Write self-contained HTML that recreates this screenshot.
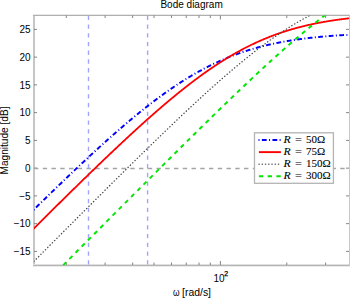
<!DOCTYPE html>
<html><head><meta charset="utf-8"><style>
html,body{margin:0;padding:0;background:#fff;}
body{width:350px;height:298px;overflow:hidden;position:relative;}
svg{position:absolute;left:0;top:0;display:block;}
.t{font-family:"Liberation Sans",sans-serif;font-size:10px;fill:#000;}
.s{font-family:"Liberation Sans",sans-serif;font-size:7px;fill:#000;stroke:#000;stroke-width:0.25px;}
.lg{font-family:"Liberation Serif",serif;font-size:11px;fill:#000;stroke:#000;stroke-width:0.08px;}
</style></head><body>
<svg width="350" height="298" viewBox="0 0 350 298">
<defs><clipPath id="pa"><rect x="34.0" y="15.5" width="315.0" height="250.0"/></clipPath></defs>
<rect x="33" y="15" width="2" height="250" fill="#c6c6c6"/>
<rect x="33" y="14" width="317" height="1" fill="#e8e8e8"/>
<rect x="33" y="15" width="317" height="1" fill="#b0b0b0"/>
<rect x="33" y="264" width="317" height="1" fill="#e0e0e0"/>
<rect x="33" y="265" width="317" height="1" fill="#b4b4b4"/>
<rect x="33" y="266" width="317" height="1" fill="#ececec"/>
<rect x="349" y="15" width="1" height="251" fill="#c8c8c8"/>
<line x1="66.28" y1="265.00" x2="66.28" y2="262.50" stroke="#777" stroke-width="0.9"/>
<line x1="66.28" y1="15.50" x2="66.28" y2="18.00" stroke="#777" stroke-width="0.9"/>
<line x1="105.11" y1="265.00" x2="105.11" y2="262.50" stroke="#777" stroke-width="0.9"/>
<line x1="105.11" y1="15.50" x2="105.11" y2="18.00" stroke="#777" stroke-width="0.9"/>
<line x1="132.65" y1="265.00" x2="132.65" y2="262.50" stroke="#777" stroke-width="0.9"/>
<line x1="132.65" y1="15.50" x2="132.65" y2="18.00" stroke="#777" stroke-width="0.9"/>
<line x1="154.02" y1="265.00" x2="154.02" y2="262.50" stroke="#777" stroke-width="0.9"/>
<line x1="154.02" y1="15.50" x2="154.02" y2="18.00" stroke="#777" stroke-width="0.9"/>
<line x1="171.48" y1="265.00" x2="171.48" y2="262.50" stroke="#777" stroke-width="0.9"/>
<line x1="171.48" y1="15.50" x2="171.48" y2="18.00" stroke="#777" stroke-width="0.9"/>
<line x1="186.24" y1="265.00" x2="186.24" y2="262.50" stroke="#777" stroke-width="0.9"/>
<line x1="186.24" y1="15.50" x2="186.24" y2="18.00" stroke="#777" stroke-width="0.9"/>
<line x1="199.03" y1="265.00" x2="199.03" y2="262.50" stroke="#777" stroke-width="0.9"/>
<line x1="199.03" y1="15.50" x2="199.03" y2="18.00" stroke="#777" stroke-width="0.9"/>
<line x1="210.31" y1="265.00" x2="210.31" y2="262.50" stroke="#777" stroke-width="0.9"/>
<line x1="210.31" y1="15.50" x2="210.31" y2="18.00" stroke="#777" stroke-width="0.9"/>
<line x1="220.40" y1="265.00" x2="220.40" y2="261.00" stroke="#777" stroke-width="0.9"/>
<line x1="220.40" y1="15.50" x2="220.40" y2="19.50" stroke="#777" stroke-width="0.9"/>
<line x1="286.78" y1="265.00" x2="286.78" y2="262.50" stroke="#777" stroke-width="0.9"/>
<line x1="286.78" y1="15.50" x2="286.78" y2="18.00" stroke="#777" stroke-width="0.9"/>
<line x1="325.61" y1="265.00" x2="325.61" y2="262.50" stroke="#777" stroke-width="0.9"/>
<line x1="325.61" y1="15.50" x2="325.61" y2="18.00" stroke="#777" stroke-width="0.9"/>
<line x1="34" y1="251.40" x2="37" y2="251.40" stroke="#777" stroke-width="0.9"/>
<line x1="349" y1="251.40" x2="346" y2="251.40" stroke="#777" stroke-width="0.9"/>
<line x1="34" y1="223.65" x2="37" y2="223.65" stroke="#777" stroke-width="0.9"/>
<line x1="349" y1="223.65" x2="346" y2="223.65" stroke="#777" stroke-width="0.9"/>
<line x1="34" y1="195.90" x2="37" y2="195.90" stroke="#777" stroke-width="0.9"/>
<line x1="349" y1="195.90" x2="346" y2="195.90" stroke="#777" stroke-width="0.9"/>
<line x1="34" y1="168.15" x2="37" y2="168.15" stroke="#777" stroke-width="0.9"/>
<line x1="349" y1="168.15" x2="346" y2="168.15" stroke="#777" stroke-width="0.9"/>
<line x1="34" y1="140.40" x2="37" y2="140.40" stroke="#777" stroke-width="0.9"/>
<line x1="349" y1="140.40" x2="346" y2="140.40" stroke="#777" stroke-width="0.9"/>
<line x1="34" y1="112.65" x2="37" y2="112.65" stroke="#777" stroke-width="0.9"/>
<line x1="349" y1="112.65" x2="346" y2="112.65" stroke="#777" stroke-width="0.9"/>
<line x1="34" y1="84.90" x2="37" y2="84.90" stroke="#777" stroke-width="0.9"/>
<line x1="349" y1="84.90" x2="346" y2="84.90" stroke="#777" stroke-width="0.9"/>
<line x1="34" y1="57.15" x2="37" y2="57.15" stroke="#777" stroke-width="0.9"/>
<line x1="349" y1="57.15" x2="346" y2="57.15" stroke="#777" stroke-width="0.9"/>
<line x1="34" y1="29.40" x2="37" y2="29.40" stroke="#777" stroke-width="0.9"/>
<line x1="349" y1="29.40" x2="346" y2="29.40" stroke="#777" stroke-width="0.9"/>
<g clip-path="url(#pa)">
<line x1="34" y1="168.5" x2="349" y2="168.5" stroke="#a4a4a4" stroke-width="1.3" stroke-dasharray="4.4 4.35"/>
<line x1="88.5" y1="15.7" x2="88.5" y2="266" stroke="#a4a4ff" stroke-width="1.4" stroke-dasharray="4.3 4.43"/>
<line x1="147.6" y1="15.7" x2="147.6" y2="266" stroke="#a4a4ff" stroke-width="1.4" stroke-dasharray="4.3 4.43"/>
<path d="M30.00,213.37 L30.50,212.87 L31.00,212.38 L31.50,211.89 L32.00,211.40 L32.50,210.91 L33.00,210.42 L33.50,209.93 L34.00,209.44 L34.50,208.95 L35.00,208.46 L35.50,207.97 L36.00,207.48 L36.50,206.99 L37.00,206.50 L37.50,206.01 L38.00,205.53 L38.50,205.04 L39.00,204.55 L39.50,204.06 L40.00,203.57 L40.50,203.08 L41.00,202.60 L41.50,202.11 L42.00,201.62 L42.50,201.13 L43.00,200.65 L43.50,200.16 L44.00,199.67 L44.50,199.18 L45.00,198.70 L45.50,198.21 L46.00,197.72 L46.50,197.24 L47.00,196.75 L47.50,196.27 L48.00,195.78 L48.50,195.30 L49.00,194.81 L49.50,194.32 L50.00,193.84 L50.50,193.35 L51.00,192.87 L51.50,192.39 L52.00,191.90 L52.50,191.42 L53.00,190.93 L53.50,190.45 L54.00,189.97 L54.50,189.48 L55.00,189.00 L55.50,188.52 L56.00,188.04 L56.50,187.55 L57.00,187.07 L57.50,186.59 L58.00,186.11 L58.50,185.63 L59.00,185.14 L59.50,184.66 L60.00,184.18 L60.50,183.70 L61.00,183.22 L61.50,182.74 L62.00,182.26 L62.50,181.78 L63.00,181.30 L63.50,180.82 L64.00,180.34 L64.50,179.86 L65.00,179.39 L65.50,178.91 L66.00,178.43 L66.50,177.95 L67.00,177.47 L67.50,177.00 L68.00,176.52 L68.50,176.04 L69.00,175.57 L69.50,175.09 L70.00,174.61 L70.50,174.14 L71.00,173.66 L71.50,173.19 L72.00,172.71 L72.50,172.24 L73.00,171.76 L73.50,171.29 L74.00,170.82 L74.50,170.34 L75.00,169.87 L75.50,169.40 L76.00,168.92 L76.50,168.45 L77.00,167.98 L77.50,167.51 L78.00,167.04 L78.50,166.57 L79.00,166.10 L79.50,165.63 L80.00,165.16 L80.50,164.69 L81.00,164.22 L81.50,163.75 L82.00,163.28 L82.50,162.81 L83.00,162.34 L83.50,161.87 L84.00,161.41 L84.50,160.94 L85.00,160.47 L85.50,160.01 L86.00,159.54 L86.50,159.08 L87.00,158.61 L87.50,158.15 L88.00,157.68 L88.50,157.22 L89.00,156.75 L89.50,156.29 L90.00,155.83 L90.50,155.36 L91.00,154.90 L91.50,154.44 L92.00,153.98 L92.50,153.52 L93.00,153.06 L93.50,152.60 L94.00,152.14 L94.50,151.68 L95.00,151.22 L95.50,150.76 L96.00,150.30 L96.50,149.84 L97.00,149.39 L97.50,148.93 L98.00,148.47 L98.50,148.02 L99.00,147.56 L99.50,147.11 L100.00,146.65 L100.50,146.20 L101.00,145.74 L101.50,145.29 L102.00,144.84 L102.50,144.39 L103.00,143.93 L103.50,143.48 L104.00,143.03 L104.50,142.58 L105.00,142.13 L105.50,141.68 L106.00,141.23 L106.50,140.79 L107.00,140.34 L107.50,139.89 L108.00,139.44 L108.50,139.00 L109.00,138.55 L109.50,138.11 L110.00,137.66 L110.50,137.22 L111.00,136.77 L111.50,136.33 L112.00,135.89 L112.50,135.45 L113.00,135.01 L113.50,134.56 L114.00,134.12 L114.50,133.68 L115.00,133.25 L115.50,132.81 L116.00,132.37 L116.50,131.93 L117.00,131.49 L117.50,131.06 L118.00,130.62 L118.50,130.19 L119.00,129.75 L119.50,129.32 L120.00,128.89 L120.50,128.45 L121.00,128.02 L121.50,127.59 L122.00,127.16 L122.50,126.73 L123.00,126.30 L123.50,125.87 L124.00,125.44 L124.50,125.02 L125.00,124.59 L125.50,124.16 L126.00,123.74 L126.50,123.31 L127.00,122.89 L127.50,122.47 L128.00,122.04 L128.50,121.62 L129.00,121.20 L129.50,120.78 L130.00,120.36 L130.50,119.94 L131.00,119.52 L131.50,119.11 L132.00,118.69 L132.50,118.27 L133.00,117.86 L133.50,117.44 L134.00,117.03 L134.50,116.62 L135.00,116.20 L135.50,115.79 L136.00,115.38 L136.50,114.97 L137.00,114.56 L137.50,114.15 L138.00,113.75 L138.50,113.34 L139.00,112.93 L139.50,112.53 L140.00,112.12 L140.50,111.72 L141.00,111.32 L141.50,110.92 L142.00,110.51 L142.50,110.11 L143.00,109.72 L143.50,109.32 L144.00,108.92 L144.50,108.52 L145.00,108.13 L145.50,107.73 L146.00,107.34 L146.50,106.94 L147.00,106.55 L147.50,106.16 L148.00,105.77 L148.50,105.38 L149.00,104.99 L149.50,104.60 L150.00,104.21 L150.50,103.83 L151.00,103.44 L151.50,103.06 L152.00,102.68 L152.50,102.29 L153.00,101.91 L153.50,101.53 L154.00,101.15 L154.50,100.77 L155.00,100.40 L155.50,100.02 L156.00,99.64 L156.50,99.27 L157.00,98.89 L157.50,98.52 L158.00,98.15 L158.50,97.78 L159.00,97.41 L159.50,97.04 L160.00,96.67 L160.50,96.31 L161.00,95.94 L161.50,95.57 L162.00,95.21 L162.50,94.85 L163.00,94.49 L163.50,94.13 L164.00,93.77 L164.50,93.41 L165.00,93.05 L165.50,92.69 L166.00,92.34 L166.50,91.98 L167.00,91.63 L167.50,91.28 L168.00,90.93 L168.50,90.58 L169.00,90.23 L169.50,89.88 L170.00,89.53 L170.50,89.19 L171.00,88.84 L171.50,88.50 L172.00,88.16 L172.50,87.82 L173.00,87.48 L173.50,87.14 L174.00,86.80 L174.50,86.46 L175.00,86.13 L175.50,85.79 L176.00,85.46 L176.50,85.13 L177.00,84.80 L177.50,84.47 L178.00,84.14 L178.50,83.81 L179.00,83.49 L179.50,83.16 L180.00,82.84 L180.50,82.51 L181.00,82.19 L181.50,81.87 L182.00,81.55 L182.50,81.24 L183.00,80.92 L183.50,80.60 L184.00,80.29 L184.50,79.98 L185.00,79.66 L185.50,79.35 L186.00,79.04 L186.50,78.74 L187.00,78.43 L187.50,78.12 L188.00,77.82 L188.50,77.51 L189.00,77.21 L189.50,76.91 L190.00,76.61 L190.50,76.31 L191.00,76.01 L191.50,75.72 L192.00,75.42 L192.50,75.13 L193.00,74.84 L193.50,74.55 L194.00,74.26 L194.50,73.97 L195.00,73.68 L195.50,73.39 L196.00,73.11 L196.50,72.83 L197.00,72.54 L197.50,72.26 L198.00,71.98 L198.50,71.70 L199.00,71.43 L199.50,71.15 L200.00,70.88 L200.50,70.60 L201.00,70.33 L201.50,70.06 L202.00,69.79 L202.50,69.52 L203.00,69.25 L203.50,68.99 L204.00,68.72 L204.50,68.46 L205.00,68.20 L205.50,67.94 L206.00,67.68 L206.50,67.42 L207.00,67.16 L207.50,66.91 L208.00,66.65 L208.50,66.40 L209.00,66.15 L209.50,65.90 L210.00,65.65 L210.50,65.40 L211.00,65.15 L211.50,64.91 L212.00,64.66 L212.50,64.42 L213.00,64.18 L213.50,63.94 L214.00,63.70 L214.50,63.46 L215.00,63.22 L215.50,62.99 L216.00,62.75 L216.50,62.52 L217.00,62.29 L217.50,62.06 L218.00,61.83 L218.50,61.60 L219.00,61.38 L219.50,61.15 L220.00,60.93 L220.50,60.71 L221.00,60.48 L221.50,60.26 L222.00,60.05 L222.50,59.83 L223.00,59.61 L223.50,59.40 L224.00,59.18 L224.50,58.97 L225.00,58.76 L225.50,58.55 L226.00,58.34 L226.50,58.13 L227.00,57.93 L227.50,57.72 L228.00,57.52 L228.50,57.31 L229.00,57.11 L229.50,56.91 L230.00,56.71 L230.50,56.52 L231.00,56.32 L231.50,56.12 L232.00,55.93 L232.50,55.74 L233.00,55.54 L233.50,55.35 L234.00,55.16 L234.50,54.98 L235.00,54.79 L235.50,54.60 L236.00,54.42 L236.50,54.24 L237.00,54.05 L237.50,53.87 L238.00,53.69 L238.50,53.51 L239.00,53.34 L239.50,53.16 L240.00,52.99 L240.50,52.81 L241.00,52.64 L241.50,52.47 L242.00,52.30 L242.50,52.13 L243.00,51.96 L243.50,51.79 L244.00,51.63 L244.50,51.46 L245.00,51.30 L245.50,51.13 L246.00,50.97 L246.50,50.81 L247.00,50.65 L247.50,50.50 L248.00,50.34 L248.50,50.18 L249.00,50.03 L249.50,49.87 L250.00,49.72 L250.50,49.57 L251.00,49.42 L251.50,49.27 L252.00,49.12 L252.50,48.97 L253.00,48.83 L253.50,48.68 L254.00,48.54 L254.50,48.40 L255.00,48.25 L255.50,48.11 L256.00,47.97 L256.50,47.83 L257.00,47.70 L257.50,47.56 L258.00,47.42 L258.50,47.29 L259.00,47.15 L259.50,47.02 L260.00,46.89 L260.50,46.76 L261.00,46.63 L261.50,46.50 L262.00,46.37 L262.50,46.25 L263.00,46.12 L263.50,45.99 L264.00,45.87 L264.50,45.75 L265.00,45.63 L265.50,45.50 L266.00,45.38 L266.50,45.26 L267.00,45.15 L267.50,45.03 L268.00,44.91 L268.50,44.80 L269.00,44.68 L269.50,44.57 L270.00,44.45 L270.50,44.34 L271.00,44.23 L271.50,44.12 L272.00,44.01 L272.50,43.90 L273.00,43.80 L273.50,43.69 L274.00,43.58 L274.50,43.48 L275.00,43.37 L275.50,43.27 L276.00,43.17 L276.50,43.07 L277.00,42.97 L277.50,42.87 L278.00,42.77 L278.50,42.67 L279.00,42.57 L279.50,42.47 L280.00,42.38 L280.50,42.28 L281.00,42.19 L281.50,42.09 L282.00,42.00 L282.50,41.91 L283.00,41.82 L283.50,41.73 L284.00,41.64 L284.50,41.55 L285.00,41.46 L285.50,41.37 L286.00,41.29 L286.50,41.20 L287.00,41.11 L287.50,41.03 L288.00,40.95 L288.50,40.86 L289.00,40.78 L289.50,40.70 L290.00,40.62 L290.50,40.54 L291.00,40.46 L291.50,40.38 L292.00,40.30 L292.50,40.22 L293.00,40.15 L293.50,40.07 L294.00,39.99 L294.50,39.92 L295.00,39.85 L295.50,39.77 L296.00,39.70 L296.50,39.63 L297.00,39.55 L297.50,39.48 L298.00,39.41 L298.50,39.34 L299.00,39.27 L299.50,39.21 L300.00,39.14 L300.50,39.07 L301.00,39.00 L301.50,38.94 L302.00,38.87 L302.50,38.81 L303.00,38.74 L303.50,38.68 L304.00,38.61 L304.50,38.55 L305.00,38.49 L305.50,38.43 L306.00,38.37 L306.50,38.31 L307.00,38.25 L307.50,38.19 L308.00,38.13 L308.50,38.07 L309.00,38.01 L309.50,37.96 L310.00,37.90 L310.50,37.84 L311.00,37.79 L311.50,37.73 L312.00,37.68 L312.50,37.62 L313.00,37.57 L313.50,37.52 L314.00,37.46 L314.50,37.41 L315.00,37.36 L315.50,37.31 L316.00,37.26 L316.50,37.21 L317.00,37.16 L317.50,37.11 L318.00,37.06 L318.50,37.01 L319.00,36.96 L319.50,36.91 L320.00,36.87 L320.50,36.82 L321.00,36.77 L321.50,36.73 L322.00,36.68 L322.50,36.64 L323.00,36.59 L323.50,36.55 L324.00,36.51 L324.50,36.46 L325.00,36.42 L325.50,36.38 L326.00,36.34 L326.50,36.29 L327.00,36.25 L327.50,36.21 L328.00,36.17 L328.50,36.13 L329.00,36.09 L329.50,36.05 L330.00,36.01 L330.50,35.97 L331.00,35.94 L331.50,35.90 L332.00,35.86 L332.50,35.82 L333.00,35.79 L333.50,35.75 L334.00,35.71 L334.50,35.68 L335.00,35.64 L335.50,35.61 L336.00,35.57 L336.50,35.54 L337.00,35.50 L337.50,35.47 L338.00,35.44 L338.50,35.40 L339.00,35.37 L339.50,35.34 L340.00,35.31 L340.50,35.27 L341.00,35.24 L341.50,35.21 L342.00,35.18 L342.50,35.15 L343.00,35.12 L343.50,35.09 L344.00,35.06 L344.50,35.03 L345.00,35.00 L345.50,34.97 L346.00,34.94 L346.50,34.92 L347.00,34.89 L347.50,34.86 L348.00,34.83 L348.50,34.80 L349.00,34.78 L349.50,34.75 L350.00,34.72 L350.50,34.70 L351.00,34.67 L351.50,34.65 L352.00,34.62" fill="none" stroke="#0000ff" stroke-width="1.95" stroke-dasharray="4.8 2.38 1.0 2.38" stroke-dashoffset="2.147"/>
<path d="M30.00,232.25 L30.50,231.75 L31.00,231.25 L31.50,230.75 L32.00,230.26 L32.50,229.76 L33.00,229.26 L33.50,228.76 L34.00,228.27 L34.50,227.77 L35.00,227.27 L35.50,226.78 L36.00,226.28 L36.50,225.78 L37.00,225.28 L37.50,224.79 L38.00,224.29 L38.50,223.79 L39.00,223.30 L39.50,222.80 L40.00,222.30 L40.50,221.81 L41.00,221.31 L41.50,220.81 L42.00,220.32 L42.50,219.82 L43.00,219.33 L43.50,218.83 L44.00,218.33 L44.50,217.84 L45.00,217.34 L45.50,216.85 L46.00,216.35 L46.50,215.86 L47.00,215.36 L47.50,214.86 L48.00,214.37 L48.50,213.87 L49.00,213.38 L49.50,212.88 L50.00,212.39 L50.50,211.89 L51.00,211.40 L51.50,210.90 L52.00,210.41 L52.50,209.91 L53.00,209.42 L53.50,208.93 L54.00,208.43 L54.50,207.94 L55.00,207.44 L55.50,206.95 L56.00,206.46 L56.50,205.96 L57.00,205.47 L57.50,204.97 L58.00,204.48 L58.50,203.99 L59.00,203.49 L59.50,203.00 L60.00,202.51 L60.50,202.01 L61.00,201.52 L61.50,201.03 L62.00,200.54 L62.50,200.04 L63.00,199.55 L63.50,199.06 L64.00,198.57 L64.50,198.07 L65.00,197.58 L65.50,197.09 L66.00,196.60 L66.50,196.11 L67.00,195.62 L67.50,195.12 L68.00,194.63 L68.50,194.14 L69.00,193.65 L69.50,193.16 L70.00,192.67 L70.50,192.18 L71.00,191.69 L71.50,191.20 L72.00,190.71 L72.50,190.22 L73.00,189.73 L73.50,189.24 L74.00,188.75 L74.50,188.26 L75.00,187.77 L75.50,187.28 L76.00,186.79 L76.50,186.30 L77.00,185.81 L77.50,185.32 L78.00,184.83 L78.50,184.35 L79.00,183.86 L79.50,183.37 L80.00,182.88 L80.50,182.39 L81.00,181.91 L81.50,181.42 L82.00,180.93 L82.50,180.44 L83.00,179.96 L83.50,179.47 L84.00,178.98 L84.50,178.50 L85.00,178.01 L85.50,177.52 L86.00,177.04 L86.50,176.55 L87.00,176.07 L87.50,175.58 L88.00,175.10 L88.50,174.61 L89.00,174.13 L89.50,173.64 L90.00,173.16 L90.50,172.67 L91.00,172.19 L91.50,171.71 L92.00,171.22 L92.50,170.74 L93.00,170.25 L93.50,169.77 L94.00,169.29 L94.50,168.81 L95.00,168.32 L95.50,167.84 L96.00,167.36 L96.50,166.88 L97.00,166.40 L97.50,165.91 L98.00,165.43 L98.50,164.95 L99.00,164.47 L99.50,163.99 L100.00,163.51 L100.50,163.03 L101.00,162.55 L101.50,162.07 L102.00,161.59 L102.50,161.11 L103.00,160.63 L103.50,160.15 L104.00,159.68 L104.50,159.20 L105.00,158.72 L105.50,158.24 L106.00,157.76 L106.50,157.29 L107.00,156.81 L107.50,156.33 L108.00,155.86 L108.50,155.38 L109.00,154.90 L109.50,154.43 L110.00,153.95 L110.50,153.48 L111.00,153.00 L111.50,152.53 L112.00,152.06 L112.50,151.58 L113.00,151.11 L113.50,150.63 L114.00,150.16 L114.50,149.69 L115.00,149.22 L115.50,148.74 L116.00,148.27 L116.50,147.80 L117.00,147.33 L117.50,146.86 L118.00,146.39 L118.50,145.92 L119.00,145.45 L119.50,144.98 L120.00,144.51 L120.50,144.04 L121.00,143.57 L121.50,143.10 L122.00,142.64 L122.50,142.17 L123.00,141.70 L123.50,141.23 L124.00,140.77 L124.50,140.30 L125.00,139.83 L125.50,139.37 L126.00,138.90 L126.50,138.44 L127.00,137.98 L127.50,137.51 L128.00,137.05 L128.50,136.58 L129.00,136.12 L129.50,135.66 L130.00,135.20 L130.50,134.74 L131.00,134.27 L131.50,133.81 L132.00,133.35 L132.50,132.89 L133.00,132.43 L133.50,131.97 L134.00,131.51 L134.50,131.06 L135.00,130.60 L135.50,130.14 L136.00,129.68 L136.50,129.23 L137.00,128.77 L137.50,128.31 L138.00,127.86 L138.50,127.40 L139.00,126.95 L139.50,126.50 L140.00,126.04 L140.50,125.59 L141.00,125.14 L141.50,124.68 L142.00,124.23 L142.50,123.78 L143.00,123.33 L143.50,122.88 L144.00,122.43 L144.50,121.98 L145.00,121.53 L145.50,121.09 L146.00,120.64 L146.50,120.19 L147.00,119.74 L147.50,119.30 L148.00,118.85 L148.50,118.41 L149.00,117.96 L149.50,117.52 L150.00,117.08 L150.50,116.63 L151.00,116.19 L151.50,115.75 L152.00,115.31 L152.50,114.87 L153.00,114.43 L153.50,113.99 L154.00,113.55 L154.50,113.11 L155.00,112.67 L155.50,112.23 L156.00,111.80 L156.50,111.36 L157.00,110.93 L157.50,110.49 L158.00,110.06 L158.50,109.62 L159.00,109.19 L159.50,108.76 L160.00,108.33 L160.50,107.90 L161.00,107.47 L161.50,107.04 L162.00,106.61 L162.50,106.18 L163.00,105.75 L163.50,105.32 L164.00,104.90 L164.50,104.47 L165.00,104.05 L165.50,103.62 L166.00,103.20 L166.50,102.78 L167.00,102.35 L167.50,101.93 L168.00,101.51 L168.50,101.09 L169.00,100.67 L169.50,100.25 L170.00,99.83 L170.50,99.42 L171.00,99.00 L171.50,98.58 L172.00,98.17 L172.50,97.76 L173.00,97.34 L173.50,96.93 L174.00,96.52 L174.50,96.11 L175.00,95.69 L175.50,95.29 L176.00,94.88 L176.50,94.47 L177.00,94.06 L177.50,93.65 L178.00,93.25 L178.50,92.84 L179.00,92.44 L179.50,92.04 L180.00,91.63 L180.50,91.23 L181.00,90.83 L181.50,90.43 L182.00,90.03 L182.50,89.63 L183.00,89.24 L183.50,88.84 L184.00,88.44 L184.50,88.05 L185.00,87.66 L185.50,87.26 L186.00,86.87 L186.50,86.48 L187.00,86.09 L187.50,85.70 L188.00,85.31 L188.50,84.92 L189.00,84.54 L189.50,84.15 L190.00,83.76 L190.50,83.38 L191.00,83.00 L191.50,82.62 L192.00,82.23 L192.50,81.85 L193.00,81.47 L193.50,81.10 L194.00,80.72 L194.50,80.34 L195.00,79.97 L195.50,79.59 L196.00,79.22 L196.50,78.85 L197.00,78.48 L197.50,78.11 L198.00,77.74 L198.50,77.37 L199.00,77.00 L199.50,76.63 L200.00,76.27 L200.50,75.90 L201.00,75.54 L201.50,75.18 L202.00,74.82 L202.50,74.46 L203.00,74.10 L203.50,73.74 L204.00,73.38 L204.50,73.03 L205.00,72.67 L205.50,72.32 L206.00,71.96 L206.50,71.61 L207.00,71.26 L207.50,70.91 L208.00,70.56 L208.50,70.22 L209.00,69.87 L209.50,69.52 L210.00,69.18 L210.50,68.84 L211.00,68.50 L211.50,68.15 L212.00,67.82 L212.50,67.48 L213.00,67.14 L213.50,66.80 L214.00,66.47 L214.50,66.13 L215.00,65.80 L215.50,65.47 L216.00,65.14 L216.50,64.81 L217.00,64.48 L217.50,64.15 L218.00,63.83 L218.50,63.50 L219.00,63.18 L219.50,62.86 L220.00,62.54 L220.50,62.22 L221.00,61.90 L221.50,61.58 L222.00,61.26 L222.50,60.95 L223.00,60.64 L223.50,60.32 L224.00,60.01 L224.50,59.70 L225.00,59.39 L225.50,59.08 L226.00,58.78 L226.50,58.47 L227.00,58.17 L227.50,57.86 L228.00,57.56 L228.50,57.26 L229.00,56.96 L229.50,56.66 L230.00,56.37 L230.50,56.07 L231.00,55.78 L231.50,55.48 L232.00,55.19 L232.50,54.90 L233.00,54.61 L233.50,54.32 L234.00,54.04 L234.50,53.75 L235.00,53.47 L235.50,53.18 L236.00,52.90 L236.50,52.62 L237.00,52.34 L237.50,52.06 L238.00,51.79 L238.50,51.51 L239.00,51.24 L239.50,50.96 L240.00,50.69 L240.50,50.42 L241.00,50.15 L241.50,49.88 L242.00,49.62 L242.50,49.35 L243.00,49.09 L243.50,48.82 L244.00,48.56 L244.50,48.30 L245.00,48.04 L245.50,47.78 L246.00,47.53 L246.50,47.27 L247.00,47.02 L247.50,46.77 L248.00,46.51 L248.50,46.26 L249.00,46.02 L249.50,45.77 L250.00,45.52 L250.50,45.28 L251.00,45.03 L251.50,44.79 L252.00,44.55 L252.50,44.31 L253.00,44.07 L253.50,43.83 L254.00,43.60 L254.50,43.36 L255.00,43.13 L255.50,42.90 L256.00,42.67 L256.50,42.44 L257.00,42.21 L257.50,41.98 L258.00,41.75 L258.50,41.53 L259.00,41.31 L259.50,41.08 L260.00,40.86 L260.50,40.64 L261.00,40.42 L261.50,40.21 L262.00,39.99 L262.50,39.78 L263.00,39.56 L263.50,39.35 L264.00,39.14 L264.50,38.93 L265.00,38.72 L265.50,38.51 L266.00,38.31 L266.50,38.10 L267.00,37.90 L267.50,37.70 L268.00,37.50 L268.50,37.30 L269.00,37.10 L269.50,36.90 L270.00,36.71 L270.50,36.51 L271.00,36.32 L271.50,36.12 L272.00,35.93 L272.50,35.74 L273.00,35.55 L273.50,35.37 L274.00,35.18 L274.50,34.99 L275.00,34.81 L275.50,34.63 L276.00,34.45 L276.50,34.26 L277.00,34.09 L277.50,33.91 L278.00,33.73 L278.50,33.55 L279.00,33.38 L279.50,33.21 L280.00,33.03 L280.50,32.86 L281.00,32.69 L281.50,32.52 L282.00,32.36 L282.50,32.19 L283.00,32.02 L283.50,31.86 L284.00,31.70 L284.50,31.53 L285.00,31.37 L285.50,31.21 L286.00,31.05 L286.50,30.90 L287.00,30.74 L287.50,30.58 L288.00,30.43 L288.50,30.28 L289.00,30.12 L289.50,29.97 L290.00,29.82 L290.50,29.67 L291.00,29.52 L291.50,29.38 L292.00,29.23 L292.50,29.09 L293.00,28.94 L293.50,28.80 L294.00,28.66 L294.50,28.52 L295.00,28.38 L295.50,28.24 L296.00,28.10 L296.50,27.97 L297.00,27.83 L297.50,27.70 L298.00,27.56 L298.50,27.43 L299.00,27.30 L299.50,27.17 L300.00,27.04 L300.50,26.91 L301.00,26.78 L301.50,26.66 L302.00,26.53 L302.50,26.41 L303.00,26.28 L303.50,26.16 L304.00,26.04 L304.50,25.92 L305.00,25.80 L305.50,25.68 L306.00,25.56 L306.50,25.44 L307.00,25.33 L307.50,25.21 L308.00,25.10 L308.50,24.98 L309.00,24.87 L309.50,24.76 L310.00,24.65 L310.50,24.54 L311.00,24.43 L311.50,24.32 L312.00,24.21 L312.50,24.11 L313.00,24.00 L313.50,23.90 L314.00,23.79 L314.50,23.69 L315.00,23.59 L315.50,23.49 L316.00,23.38 L316.50,23.28 L317.00,23.19 L317.50,23.09 L318.00,22.99 L318.50,22.89 L319.00,22.80 L319.50,22.70 L320.00,22.61 L320.50,22.52 L321.00,22.42 L321.50,22.33 L322.00,22.24 L322.50,22.15 L323.00,22.06 L323.50,21.97 L324.00,21.88 L324.50,21.80 L325.00,21.71 L325.50,21.62 L326.00,21.54 L326.50,21.46 L327.00,21.37 L327.50,21.29 L328.00,21.21 L328.50,21.12 L329.00,21.04 L329.50,20.96 L330.00,20.88 L330.50,20.81 L331.00,20.73 L331.50,20.65 L332.00,20.57 L332.50,20.50 L333.00,20.42 L333.50,20.35 L334.00,20.27 L334.50,20.20 L335.00,20.13 L335.50,20.06 L336.00,19.98 L336.50,19.91 L337.00,19.84 L337.50,19.77 L338.00,19.70 L338.50,19.64 L339.00,19.57 L339.50,19.50 L340.00,19.43 L340.50,19.37 L341.00,19.30 L341.50,19.24 L342.00,19.17 L342.50,19.11 L343.00,19.05 L343.50,18.98 L344.00,18.92 L344.50,18.86 L345.00,18.80 L345.50,18.74 L346.00,18.68 L346.50,18.62 L347.00,18.56 L347.50,18.50 L348.00,18.45 L348.50,18.39 L349.00,18.33 L349.50,18.28 L350.00,18.22 L350.50,18.17 L351.00,18.11 L351.50,18.06 L352.00,18.00" fill="none" stroke="#ff0000" stroke-width="1.8"/>
<path d="M30.00,265.26 L30.50,264.76 L31.00,264.26 L31.50,263.75 L32.00,263.25 L32.50,262.75 L33.00,262.25 L33.50,261.75 L34.00,261.24 L34.50,260.74 L35.00,260.24 L35.50,259.74 L36.00,259.24 L36.50,258.73 L37.00,258.23 L37.50,257.73 L38.00,257.23 L38.50,256.73 L39.00,256.23 L39.50,255.72 L40.00,255.22 L40.50,254.72 L41.00,254.22 L41.50,253.72 L42.00,253.22 L42.50,252.71 L43.00,252.21 L43.50,251.71 L44.00,251.21 L44.50,250.71 L45.00,250.21 L45.50,249.71 L46.00,249.20 L46.50,248.70 L47.00,248.20 L47.50,247.70 L48.00,247.20 L48.50,246.70 L49.00,246.20 L49.50,245.69 L50.00,245.19 L50.50,244.69 L51.00,244.19 L51.50,243.69 L52.00,243.19 L52.50,242.69 L53.00,242.19 L53.50,241.68 L54.00,241.18 L54.50,240.68 L55.00,240.18 L55.50,239.68 L56.00,239.18 L56.50,238.68 L57.00,238.18 L57.50,237.68 L58.00,237.18 L58.50,236.67 L59.00,236.17 L59.50,235.67 L60.00,235.17 L60.50,234.67 L61.00,234.17 L61.50,233.67 L62.00,233.17 L62.50,232.67 L63.00,232.17 L63.50,231.67 L64.00,231.17 L64.50,230.67 L65.00,230.17 L65.50,229.67 L66.00,229.17 L66.50,228.66 L67.00,228.16 L67.50,227.66 L68.00,227.16 L68.50,226.66 L69.00,226.16 L69.50,225.66 L70.00,225.16 L70.50,224.66 L71.00,224.16 L71.50,223.66 L72.00,223.16 L72.50,222.66 L73.00,222.16 L73.50,221.66 L74.00,221.16 L74.50,220.66 L75.00,220.16 L75.50,219.66 L76.00,219.16 L76.50,218.66 L77.00,218.16 L77.50,217.66 L78.00,217.16 L78.50,216.67 L79.00,216.17 L79.50,215.67 L80.00,215.17 L80.50,214.67 L81.00,214.17 L81.50,213.67 L82.00,213.17 L82.50,212.67 L83.00,212.17 L83.50,211.67 L84.00,211.17 L84.50,210.67 L85.00,210.17 L85.50,209.68 L86.00,209.18 L86.50,208.68 L87.00,208.18 L87.50,207.68 L88.00,207.18 L88.50,206.68 L89.00,206.18 L89.50,205.69 L90.00,205.19 L90.50,204.69 L91.00,204.19 L91.50,203.69 L92.00,203.19 L92.50,202.70 L93.00,202.20 L93.50,201.70 L94.00,201.20 L94.50,200.70 L95.00,200.20 L95.50,199.71 L96.00,199.21 L96.50,198.71 L97.00,198.21 L97.50,197.72 L98.00,197.22 L98.50,196.72 L99.00,196.22 L99.50,195.73 L100.00,195.23 L100.50,194.73 L101.00,194.23 L101.50,193.74 L102.00,193.24 L102.50,192.74 L103.00,192.24 L103.50,191.75 L104.00,191.25 L104.50,190.75 L105.00,190.26 L105.50,189.76 L106.00,189.26 L106.50,188.77 L107.00,188.27 L107.50,187.77 L108.00,187.28 L108.50,186.78 L109.00,186.29 L109.50,185.79 L110.00,185.29 L110.50,184.80 L111.00,184.30 L111.50,183.81 L112.00,183.31 L112.50,182.81 L113.00,182.32 L113.50,181.82 L114.00,181.33 L114.50,180.83 L115.00,180.34 L115.50,179.84 L116.00,179.35 L116.50,178.85 L117.00,178.36 L117.50,177.86 L118.00,177.37 L118.50,176.87 L119.00,176.38 L119.50,175.88 L120.00,175.39 L120.50,174.90 L121.00,174.40 L121.50,173.91 L122.00,173.41 L122.50,172.92 L123.00,172.43 L123.50,171.93 L124.00,171.44 L124.50,170.94 L125.00,170.45 L125.50,169.96 L126.00,169.46 L126.50,168.97 L127.00,168.48 L127.50,167.99 L128.00,167.49 L128.50,167.00 L129.00,166.51 L129.50,166.02 L130.00,165.52 L130.50,165.03 L131.00,164.54 L131.50,164.05 L132.00,163.56 L132.50,163.06 L133.00,162.57 L133.50,162.08 L134.00,161.59 L134.50,161.10 L135.00,160.61 L135.50,160.12 L136.00,159.62 L136.50,159.13 L137.00,158.64 L137.50,158.15 L138.00,157.66 L138.50,157.17 L139.00,156.68 L139.50,156.19 L140.00,155.70 L140.50,155.21 L141.00,154.72 L141.50,154.23 L142.00,153.74 L142.50,153.26 L143.00,152.77 L143.50,152.28 L144.00,151.79 L144.50,151.30 L145.00,150.81 L145.50,150.32 L146.00,149.84 L146.50,149.35 L147.00,148.86 L147.50,148.37 L148.00,147.88 L148.50,147.40 L149.00,146.91 L149.50,146.42 L150.00,145.94 L150.50,145.45 L151.00,144.96 L151.50,144.48 L152.00,143.99 L152.50,143.51 L153.00,143.02 L153.50,142.53 L154.00,142.05 L154.50,141.56 L155.00,141.08 L155.50,140.59 L156.00,140.11 L156.50,139.62 L157.00,139.14 L157.50,138.66 L158.00,138.17 L158.50,137.69 L159.00,137.20 L159.50,136.72 L160.00,136.24 L160.50,135.76 L161.00,135.27 L161.50,134.79 L162.00,134.31 L162.50,133.83 L163.00,133.34 L163.50,132.86 L164.00,132.38 L164.50,131.90 L165.00,131.42 L165.50,130.94 L166.00,130.46 L166.50,129.98 L167.00,129.50 L167.50,129.02 L168.00,128.54 L168.50,128.06 L169.00,127.58 L169.50,127.10 L170.00,126.62 L170.50,126.14 L171.00,125.67 L171.50,125.19 L172.00,124.71 L172.50,124.23 L173.00,123.76 L173.50,123.28 L174.00,122.80 L174.50,122.33 L175.00,121.85 L175.50,121.37 L176.00,120.90 L176.50,120.42 L177.00,119.95 L177.50,119.47 L178.00,119.00 L178.50,118.52 L179.00,118.05 L179.50,117.58 L180.00,117.10 L180.50,116.63 L181.00,116.16 L181.50,115.69 L182.00,115.21 L182.50,114.74 L183.00,114.27 L183.50,113.80 L184.00,113.33 L184.50,112.86 L185.00,112.39 L185.50,111.92 L186.00,111.45 L186.50,110.98 L187.00,110.51 L187.50,110.04 L188.00,109.57 L188.50,109.11 L189.00,108.64 L189.50,108.17 L190.00,107.70 L190.50,107.24 L191.00,106.77 L191.50,106.31 L192.00,105.84 L192.50,105.38 L193.00,104.91 L193.50,104.45 L194.00,103.98 L194.50,103.52 L195.00,103.06 L195.50,102.59 L196.00,102.13 L196.50,101.67 L197.00,101.21 L197.50,100.75 L198.00,100.29 L198.50,99.82 L199.00,99.36 L199.50,98.91 L200.00,98.45 L200.50,97.99 L201.00,97.53 L201.50,97.07 L202.00,96.61 L202.50,96.16 L203.00,95.70 L203.50,95.24 L204.00,94.79 L204.50,94.33 L205.00,93.88 L205.50,93.42 L206.00,92.97 L206.50,92.52 L207.00,92.06 L207.50,91.61 L208.00,91.16 L208.50,90.71 L209.00,90.26 L209.50,89.81 L210.00,89.36 L210.50,88.91 L211.00,88.46 L211.50,88.01 L212.00,87.56 L212.50,87.11 L213.00,86.67 L213.50,86.22 L214.00,85.77 L214.50,85.33 L215.00,84.88 L215.50,84.44 L216.00,84.00 L216.50,83.55 L217.00,83.11 L217.50,82.67 L218.00,82.23 L218.50,81.78 L219.00,81.34 L219.50,80.90 L220.00,80.46 L220.50,80.03 L221.00,79.59 L221.50,79.15 L222.00,78.71 L222.50,78.28 L223.00,77.84 L223.50,77.41 L224.00,76.97 L224.50,76.54 L225.00,76.10 L225.50,75.67 L226.00,75.24 L226.50,74.81 L227.00,74.38 L227.50,73.95 L228.00,73.52 L228.50,73.09 L229.00,72.66 L229.50,72.23 L230.00,71.80 L230.50,71.38 L231.00,70.95 L231.50,70.53 L232.00,70.10 L232.50,69.68 L233.00,69.26 L233.50,68.84 L234.00,68.41 L234.50,67.99 L235.00,67.57 L235.50,67.15 L236.00,66.74 L236.50,66.32 L237.00,65.90 L237.50,65.48 L238.00,65.07 L238.50,64.65 L239.00,64.24 L239.50,63.83 L240.00,63.41 L240.50,63.00 L241.00,62.59 L241.50,62.18 L242.00,61.77 L242.50,61.36 L243.00,60.95 L243.50,60.55 L244.00,60.14 L244.50,59.73 L245.00,59.33 L245.50,58.93 L246.00,58.52 L246.50,58.12 L247.00,57.72 L247.50,57.32 L248.00,56.92 L248.50,56.52 L249.00,56.12 L249.50,55.72 L250.00,55.33 L250.50,54.93 L251.00,54.54 L251.50,54.14 L252.00,53.75 L252.50,53.36 L253.00,52.97 L253.50,52.58 L254.00,52.19 L254.50,51.80 L255.00,51.41 L255.50,51.03 L256.00,50.64 L256.50,50.26 L257.00,49.87 L257.50,49.49 L258.00,49.11 L258.50,48.73 L259.00,48.35 L259.50,47.97 L260.00,47.59 L260.50,47.21 L261.00,46.84 L261.50,46.46 L262.00,46.09 L262.50,45.71 L263.00,45.34 L263.50,44.97 L264.00,44.60 L264.50,44.23 L265.00,43.86 L265.50,43.50 L266.00,43.13 L266.50,42.76 L267.00,42.40 L267.50,42.04 L268.00,41.67 L268.50,41.31 L269.00,40.95 L269.50,40.59 L270.00,40.24 L270.50,39.88 L271.00,39.52 L271.50,39.17 L272.00,38.82 L272.50,38.46 L273.00,38.11 L273.50,37.76 L274.00,37.41 L274.50,37.06 L275.00,36.72 L275.50,36.37 L276.00,36.03 L276.50,35.68 L277.00,35.34 L277.50,35.00 L278.00,34.66 L278.50,34.32 L279.00,33.98 L279.50,33.64 L280.00,33.31 L280.50,32.97 L281.00,32.64 L281.50,32.31 L282.00,31.97 L282.50,31.64 L283.00,31.31 L283.50,30.99 L284.00,30.66 L284.50,30.33 L285.00,30.01 L285.50,29.69 L286.00,29.36 L286.50,29.04 L287.00,28.72 L287.50,28.41 L288.00,28.09 L288.50,27.77 L289.00,27.46 L289.50,27.14 L290.00,26.83 L290.50,26.52 L291.00,26.21 L291.50,25.90 L292.00,25.59 L292.50,25.29 L293.00,24.98 L293.50,24.68 L294.00,24.37 L294.50,24.07 L295.00,23.77 L295.50,23.47 L296.00,23.18 L296.50,22.88 L297.00,22.58 L297.50,22.29 L298.00,22.00 L298.50,21.71 L299.00,21.42 L299.50,21.13 L300.00,20.84 L300.50,20.55 L301.00,20.27 L301.50,19.98 L302.00,19.70 L302.50,19.42 L303.00,19.14 L303.50,18.86 L304.00,18.58 L304.50,18.30 L305.00,18.03 L305.50,17.75 L306.00,17.48 L306.50,17.21 L307.00,16.94 L307.50,16.67 L308.00,16.40 L308.50,16.14 L309.00,15.87 L309.50,15.61 L310.00,15.34 L310.50,15.08 L311.00,14.82 L311.50,14.56 L312.00,14.31 L312.50,14.05 L313.00,13.80 L313.50,13.54 L314.00,13.29 L314.50,13.04 L315.00,12.79 L315.50,12.54 L316.00,12.29 L316.50,12.05 L317.00,11.80 L317.50,11.56 L318.00,11.32 L318.50,11.08 L319.00,10.84 L319.50,10.60 L320.00,10.36 L320.50,10.12 L321.00,9.89 L321.50,9.66 L322.00,9.42 L322.50,9.19 L323.00,8.96 L323.50,8.74 L324.00,8.51 L324.50,8.28 L325.00,8.06 L325.50,7.84 L326.00,7.61 L326.50,7.39 L327.00,7.17 L327.50,6.96 L328.00,6.74 L328.50,6.52 L329.00,6.31 L329.50,6.10 L330.00,5.88 L330.50,5.67 L331.00,5.46 L331.50,5.26 L332.00,5.05 L332.50,4.84 L333.00,4.64 L333.50,4.44 L334.00,4.23 L334.50,4.03 L335.00,3.83 L335.50,3.64 L336.00,3.44 L336.50,3.24 L337.00,3.05 L337.50,2.85 L338.00,2.66 L338.50,2.47 L339.00,2.28 L339.50,2.09 L340.00,1.91 L340.50,1.72 L341.00,1.53 L341.50,1.35 L342.00,1.17 L342.50,0.99 L343.00,0.81 L343.50,0.63 L344.00,0.45 L344.50,0.27 L345.00,0.10 L345.50,-0.08 L346.00,-0.25 L346.50,-0.42 L347.00,-0.59 L347.50,-0.76 L348.00,-0.93 L348.50,-1.10 L349.00,-1.27 L349.50,-1.43 L350.00,-1.60 L350.50,-1.76 L351.00,-1.92 L351.50,-2.08 L352.00,-2.24" fill="none" stroke="#4a4a4a" stroke-width="1.35" stroke-linecap="round" stroke-dasharray="0.2 3.04" stroke-dashoffset="0.823"/>
<path d="M30.00,298.57 L30.50,298.07 L31.00,297.57 L31.50,297.06 L32.00,296.56 L32.50,296.06 L33.00,295.55 L33.50,295.05 L34.00,294.55 L34.50,294.04 L35.00,293.54 L35.50,293.04 L36.00,292.54 L36.50,292.03 L37.00,291.53 L37.50,291.03 L38.00,290.52 L38.50,290.02 L39.00,289.52 L39.50,289.01 L40.00,288.51 L40.50,288.01 L41.00,287.51 L41.50,287.00 L42.00,286.50 L42.50,286.00 L43.00,285.49 L43.50,284.99 L44.00,284.49 L44.50,283.99 L45.00,283.48 L45.50,282.98 L46.00,282.48 L46.50,281.97 L47.00,281.47 L47.50,280.97 L48.00,280.47 L48.50,279.96 L49.00,279.46 L49.50,278.96 L50.00,278.45 L50.50,277.95 L51.00,277.45 L51.50,276.94 L52.00,276.44 L52.50,275.94 L53.00,275.44 L53.50,274.93 L54.00,274.43 L54.50,273.93 L55.00,273.43 L55.50,272.92 L56.00,272.42 L56.50,271.92 L57.00,271.41 L57.50,270.91 L58.00,270.41 L58.50,269.91 L59.00,269.40 L59.50,268.90 L60.00,268.40 L60.50,267.89 L61.00,267.39 L61.50,266.89 L62.00,266.39 L62.50,265.88 L63.00,265.38 L63.50,264.88 L64.00,264.38 L64.50,263.87 L65.00,263.37 L65.50,262.87 L66.00,262.37 L66.50,261.86 L67.00,261.36 L67.50,260.86 L68.00,260.35 L68.50,259.85 L69.00,259.35 L69.50,258.85 L70.00,258.34 L70.50,257.84 L71.00,257.34 L71.50,256.84 L72.00,256.33 L72.50,255.83 L73.00,255.33 L73.50,254.83 L74.00,254.32 L74.50,253.82 L75.00,253.32 L75.50,252.82 L76.00,252.31 L76.50,251.81 L77.00,251.31 L77.50,250.81 L78.00,250.30 L78.50,249.80 L79.00,249.30 L79.50,248.80 L80.00,248.29 L80.50,247.79 L81.00,247.29 L81.50,246.79 L82.00,246.28 L82.50,245.78 L83.00,245.28 L83.50,244.78 L84.00,244.28 L84.50,243.77 L85.00,243.27 L85.50,242.77 L86.00,242.27 L86.50,241.76 L87.00,241.26 L87.50,240.76 L88.00,240.26 L88.50,239.75 L89.00,239.25 L89.50,238.75 L90.00,238.25 L90.50,237.75 L91.00,237.24 L91.50,236.74 L92.00,236.24 L92.50,235.74 L93.00,235.24 L93.50,234.73 L94.00,234.23 L94.50,233.73 L95.00,233.23 L95.50,232.73 L96.00,232.22 L96.50,231.72 L97.00,231.22 L97.50,230.72 L98.00,230.22 L98.50,229.71 L99.00,229.21 L99.50,228.71 L100.00,228.21 L100.50,227.71 L101.00,227.20 L101.50,226.70 L102.00,226.20 L102.50,225.70 L103.00,225.20 L103.50,224.70 L104.00,224.19 L104.50,223.69 L105.00,223.19 L105.50,222.69 L106.00,222.19 L106.50,221.68 L107.00,221.18 L107.50,220.68 L108.00,220.18 L108.50,219.68 L109.00,219.18 L109.50,218.68 L110.00,218.17 L110.50,217.67 L111.00,217.17 L111.50,216.67 L112.00,216.17 L112.50,215.67 L113.00,215.16 L113.50,214.66 L114.00,214.16 L114.50,213.66 L115.00,213.16 L115.50,212.66 L116.00,212.16 L116.50,211.66 L117.00,211.15 L117.50,210.65 L118.00,210.15 L118.50,209.65 L119.00,209.15 L119.50,208.65 L120.00,208.15 L120.50,207.65 L121.00,207.14 L121.50,206.64 L122.00,206.14 L122.50,205.64 L123.00,205.14 L123.50,204.64 L124.00,204.14 L124.50,203.64 L125.00,203.14 L125.50,202.64 L126.00,202.14 L126.50,201.63 L127.00,201.13 L127.50,200.63 L128.00,200.13 L128.50,199.63 L129.00,199.13 L129.50,198.63 L130.00,198.13 L130.50,197.63 L131.00,197.13 L131.50,196.63 L132.00,196.13 L132.50,195.63 L133.00,195.13 L133.50,194.63 L134.00,194.13 L134.50,193.63 L135.00,193.13 L135.50,192.63 L136.00,192.13 L136.50,191.63 L137.00,191.13 L137.50,190.63 L138.00,190.13 L138.50,189.63 L139.00,189.13 L139.50,188.63 L140.00,188.13 L140.50,187.63 L141.00,187.13 L141.50,186.63 L142.00,186.13 L142.50,185.63 L143.00,185.13 L143.50,184.63 L144.00,184.13 L144.50,183.63 L145.00,183.13 L145.50,182.63 L146.00,182.13 L146.50,181.63 L147.00,181.13 L147.50,180.63 L148.00,180.13 L148.50,179.63 L149.00,179.13 L149.50,178.63 L150.00,178.13 L150.50,177.64 L151.00,177.14 L151.50,176.64 L152.00,176.14 L152.50,175.64 L153.00,175.14 L153.50,174.64 L154.00,174.14 L154.50,173.64 L155.00,173.15 L155.50,172.65 L156.00,172.15 L156.50,171.65 L157.00,171.15 L157.50,170.65 L158.00,170.16 L158.50,169.66 L159.00,169.16 L159.50,168.66 L160.00,168.16 L160.50,167.66 L161.00,167.17 L161.50,166.67 L162.00,166.17 L162.50,165.67 L163.00,165.17 L163.50,164.68 L164.00,164.18 L164.50,163.68 L165.00,163.18 L165.50,162.69 L166.00,162.19 L166.50,161.69 L167.00,161.19 L167.50,160.70 L168.00,160.20 L168.50,159.70 L169.00,159.21 L169.50,158.71 L170.00,158.21 L170.50,157.71 L171.00,157.22 L171.50,156.72 L172.00,156.22 L172.50,155.73 L173.00,155.23 L173.50,154.73 L174.00,154.24 L174.50,153.74 L175.00,153.25 L175.50,152.75 L176.00,152.25 L176.50,151.76 L177.00,151.26 L177.50,150.77 L178.00,150.27 L178.50,149.77 L179.00,149.28 L179.50,148.78 L180.00,148.29 L180.50,147.79 L181.00,147.30 L181.50,146.80 L182.00,146.31 L182.50,145.81 L183.00,145.32 L183.50,144.82 L184.00,144.33 L184.50,143.83 L185.00,143.34 L185.50,142.84 L186.00,142.35 L186.50,141.85 L187.00,141.36 L187.50,140.87 L188.00,140.37 L188.50,139.88 L189.00,139.38 L189.50,138.89 L190.00,138.40 L190.50,137.90 L191.00,137.41 L191.50,136.92 L192.00,136.42 L192.50,135.93 L193.00,135.44 L193.50,134.94 L194.00,134.45 L194.50,133.96 L195.00,133.47 L195.50,132.97 L196.00,132.48 L196.50,131.99 L197.00,131.50 L197.50,131.00 L198.00,130.51 L198.50,130.02 L199.00,129.53 L199.50,129.04 L200.00,128.55 L200.50,128.05 L201.00,127.56 L201.50,127.07 L202.00,126.58 L202.50,126.09 L203.00,125.60 L203.50,125.11 L204.00,124.62 L204.50,124.13 L205.00,123.64 L205.50,123.15 L206.00,122.66 L206.50,122.17 L207.00,121.68 L207.50,121.19 L208.00,120.70 L208.50,120.21 L209.00,119.72 L209.50,119.23 L210.00,118.74 L210.50,118.25 L211.00,117.77 L211.50,117.28 L212.00,116.79 L212.50,116.30 L213.00,115.81 L213.50,115.33 L214.00,114.84 L214.50,114.35 L215.00,113.86 L215.50,113.38 L216.00,112.89 L216.50,112.40 L217.00,111.92 L217.50,111.43 L218.00,110.94 L218.50,110.46 L219.00,109.97 L219.50,109.49 L220.00,109.00 L220.50,108.51 L221.00,108.03 L221.50,107.54 L222.00,107.06 L222.50,106.58 L223.00,106.09 L223.50,105.61 L224.00,105.12 L224.50,104.64 L225.00,104.16 L225.50,103.67 L226.00,103.19 L226.50,102.71 L227.00,102.22 L227.50,101.74 L228.00,101.26 L228.50,100.78 L229.00,100.29 L229.50,99.81 L230.00,99.33 L230.50,98.85 L231.00,98.37 L231.50,97.89 L232.00,97.41 L232.50,96.93 L233.00,96.45 L233.50,95.97 L234.00,95.49 L234.50,95.01 L235.00,94.53 L235.50,94.05 L236.00,93.57 L236.50,93.09 L237.00,92.61 L237.50,92.13 L238.00,91.66 L238.50,91.18 L239.00,90.70 L239.50,90.22 L240.00,89.75 L240.50,89.27 L241.00,88.79 L241.50,88.32 L242.00,87.84 L242.50,87.37 L243.00,86.89 L243.50,86.42 L244.00,85.94 L244.50,85.47 L245.00,84.99 L245.50,84.52 L246.00,84.05 L246.50,83.57 L247.00,83.10 L247.50,82.63 L248.00,82.16 L248.50,81.68 L249.00,81.21 L249.50,80.74 L250.00,80.27 L250.50,79.80 L251.00,79.33 L251.50,78.86 L252.00,78.39 L252.50,77.92 L253.00,77.45 L253.50,76.98 L254.00,76.51 L254.50,76.04 L255.00,75.58 L255.50,75.11 L256.00,74.64 L256.50,74.18 L257.00,73.71 L257.50,73.24 L258.00,72.78 L258.50,72.31 L259.00,71.85 L259.50,71.38 L260.00,70.92 L260.50,70.45 L261.00,69.99 L261.50,69.53 L262.00,69.07 L262.50,68.60 L263.00,68.14 L263.50,67.68 L264.00,67.22 L264.50,66.76 L265.00,66.30 L265.50,65.84 L266.00,65.38 L266.50,64.92 L267.00,64.46 L267.50,64.00 L268.00,63.54 L268.50,63.09 L269.00,62.63 L269.50,62.17 L270.00,61.72 L270.50,61.26 L271.00,60.81 L271.50,60.35 L272.00,59.90 L272.50,59.44 L273.00,58.99 L273.50,58.54 L274.00,58.09 L274.50,57.63 L275.00,57.18 L275.50,56.73 L276.00,56.28 L276.50,55.83 L277.00,55.38 L277.50,54.93 L278.00,54.48 L278.50,54.04 L279.00,53.59 L279.50,53.14 L280.00,52.70 L280.50,52.25 L281.00,51.80 L281.50,51.36 L282.00,50.92 L282.50,50.47 L283.00,50.03 L283.50,49.59 L284.00,49.14 L284.50,48.70 L285.00,48.26 L285.50,47.82 L286.00,47.38 L286.50,46.94 L287.00,46.50 L287.50,46.07 L288.00,45.63 L288.50,45.19 L289.00,44.76 L289.50,44.32 L290.00,43.88 L290.50,43.45 L291.00,43.02 L291.50,42.58 L292.00,42.15 L292.50,41.72 L293.00,41.29 L293.50,40.86 L294.00,40.43 L294.50,40.00 L295.00,39.57 L295.50,39.14 L296.00,38.71 L296.50,38.29 L297.00,37.86 L297.50,37.43 L298.00,37.01 L298.50,36.59 L299.00,36.16 L299.50,35.74 L300.00,35.32 L300.50,34.90 L301.00,34.48 L301.50,34.06 L302.00,33.64 L302.50,33.22 L303.00,32.80 L303.50,32.38 L304.00,31.97 L304.50,31.55 L305.00,31.14 L305.50,30.72 L306.00,30.31 L306.50,29.90 L307.00,29.49 L307.50,29.07 L308.00,28.66 L308.50,28.26 L309.00,27.85 L309.50,27.44 L310.00,27.03 L310.50,26.63 L311.00,26.22 L311.50,25.82 L312.00,25.41 L312.50,25.01 L313.00,24.61 L313.50,24.21 L314.00,23.81 L314.50,23.41 L315.00,23.01 L315.50,22.61 L316.00,22.21 L316.50,21.82 L317.00,21.42 L317.50,21.03 L318.00,20.63 L318.50,20.24 L319.00,19.85 L319.50,19.46 L320.00,19.07 L320.50,18.68 L321.00,18.29 L321.50,17.90 L322.00,17.52 L322.50,17.13 L323.00,16.75 L323.50,16.36 L324.00,15.98 L324.50,15.60 L325.00,15.22 L325.50,14.84 L326.00,14.46 L326.50,14.08 L327.00,13.71 L327.50,13.33 L328.00,12.95 L328.50,12.58 L329.00,12.21 L329.50,11.84 L330.00,11.46 L330.50,11.09 L331.00,10.73 L331.50,10.36 L332.00,9.99 L332.50,9.62 L333.00,9.26 L333.50,8.90 L334.00,8.53 L334.50,8.17 L335.00,7.81 L335.50,7.45 L336.00,7.09 L336.50,6.73 L337.00,6.38 L337.50,6.02 L338.00,5.67 L338.50,5.31 L339.00,4.96 L339.50,4.61 L340.00,4.26 L340.50,3.91 L341.00,3.56 L341.50,3.22 L342.00,2.87 L342.50,2.53 L343.00,2.18 L343.50,1.84 L344.00,1.50 L344.50,1.16 L345.00,0.82 L345.50,0.48 L346.00,0.15 L346.50,-0.19 L347.00,-0.52 L347.50,-0.86 L348.00,-1.19 L348.50,-1.52 L349.00,-1.85 L349.50,-2.18 L350.00,-2.51 L350.50,-2.83 L351.00,-3.16 L351.50,-3.48 L352.00,-3.81" fill="none" stroke="#00e600" stroke-width="1.95" stroke-dasharray="4.3 4.45" stroke-dashoffset="5.394"/>
</g>
<text x="30.6" y="255.20" text-anchor="end" class="t">−15</text>
<text x="30.6" y="227.45" text-anchor="end" class="t">−10</text>
<text x="30.6" y="199.70" text-anchor="end" class="t">−5</text>
<text x="30.6" y="171.95" text-anchor="end" class="t">0</text>
<text x="30.6" y="144.20" text-anchor="end" class="t">5</text>
<text x="30.6" y="116.45" text-anchor="end" class="t">10</text>
<text x="30.6" y="88.70" text-anchor="end" class="t">15</text>
<text x="30.6" y="60.95" text-anchor="end" class="t">20</text>
<text x="30.6" y="33.20" text-anchor="end" class="t">25</text>
<text x="213.4" y="282.2" class="t">10</text><text x="224.2" y="276" class="s">2</text>
<text x="191.6" y="8.3" text-anchor="middle" class="t">Bode diagram</text>
<text transform="translate(8.3,140.5) rotate(-90)" text-anchor="middle" class="t" style="font-size:10.15px">Magnitude [dB]</text>
<text transform="translate(173.0,296.2) scale(0.84,1)" class="t">ω</text><text transform="translate(182.1,296.2) scale(1.04,1)" class="t">[rad/s]</text>
<rect x="254.5" y="132.8" width="78.9" height="50.5" fill="#fff" stroke="#b4b4b4" stroke-width="1.3"/>
<line x1="258.50" y1="140.05" x2="281.20" y2="140.05" stroke="#0000ff" stroke-width="1.95" stroke-dasharray="1 2.38 4.8 2.38" stroke-linecap="butt"/>
<text transform="translate(283.6,143.30) scale(1.07,1)" class="lg" font-style="italic">R</text>
<text transform="translate(294.9,143.30) scale(1.12,1)" class="lg">=</text>
<text x="306.1" y="143.30" class="lg">50Ω</text>
<line x1="258.90" y1="152.12" x2="280.90" y2="152.12" stroke="#ff0000" stroke-width="1.9" stroke-dasharray="none" stroke-linecap="butt"/>
<text transform="translate(283.6,155.30) scale(1.07,1)" class="lg" font-style="italic">R</text>
<text transform="translate(294.9,155.30) scale(1.12,1)" class="lg">=</text>
<text x="306.1" y="155.30" class="lg">75Ω</text>
<line x1="259.00" y1="164.19" x2="279.50" y2="164.19" stroke="#4a4a4a" stroke-width="1.35" stroke-dasharray="0.2 3.04" stroke-linecap="round"/>
<text transform="translate(283.6,167.30) scale(1.07,1)" class="lg" font-style="italic">R</text>
<text transform="translate(294.9,167.30) scale(1.12,1)" class="lg">=</text>
<text x="306.1" y="167.30" class="lg">150Ω</text>
<line x1="258.90" y1="176.26" x2="281.20" y2="176.26" stroke="#00e600" stroke-width="1.95" stroke-dasharray="4.3 4.45" stroke-linecap="butt"/>
<text transform="translate(283.6,179.30) scale(1.07,1)" class="lg" font-style="italic">R</text>
<text transform="translate(294.9,179.30) scale(1.12,1)" class="lg">=</text>
<text x="306.1" y="179.30" class="lg">300Ω</text>
</svg>
</body></html>
